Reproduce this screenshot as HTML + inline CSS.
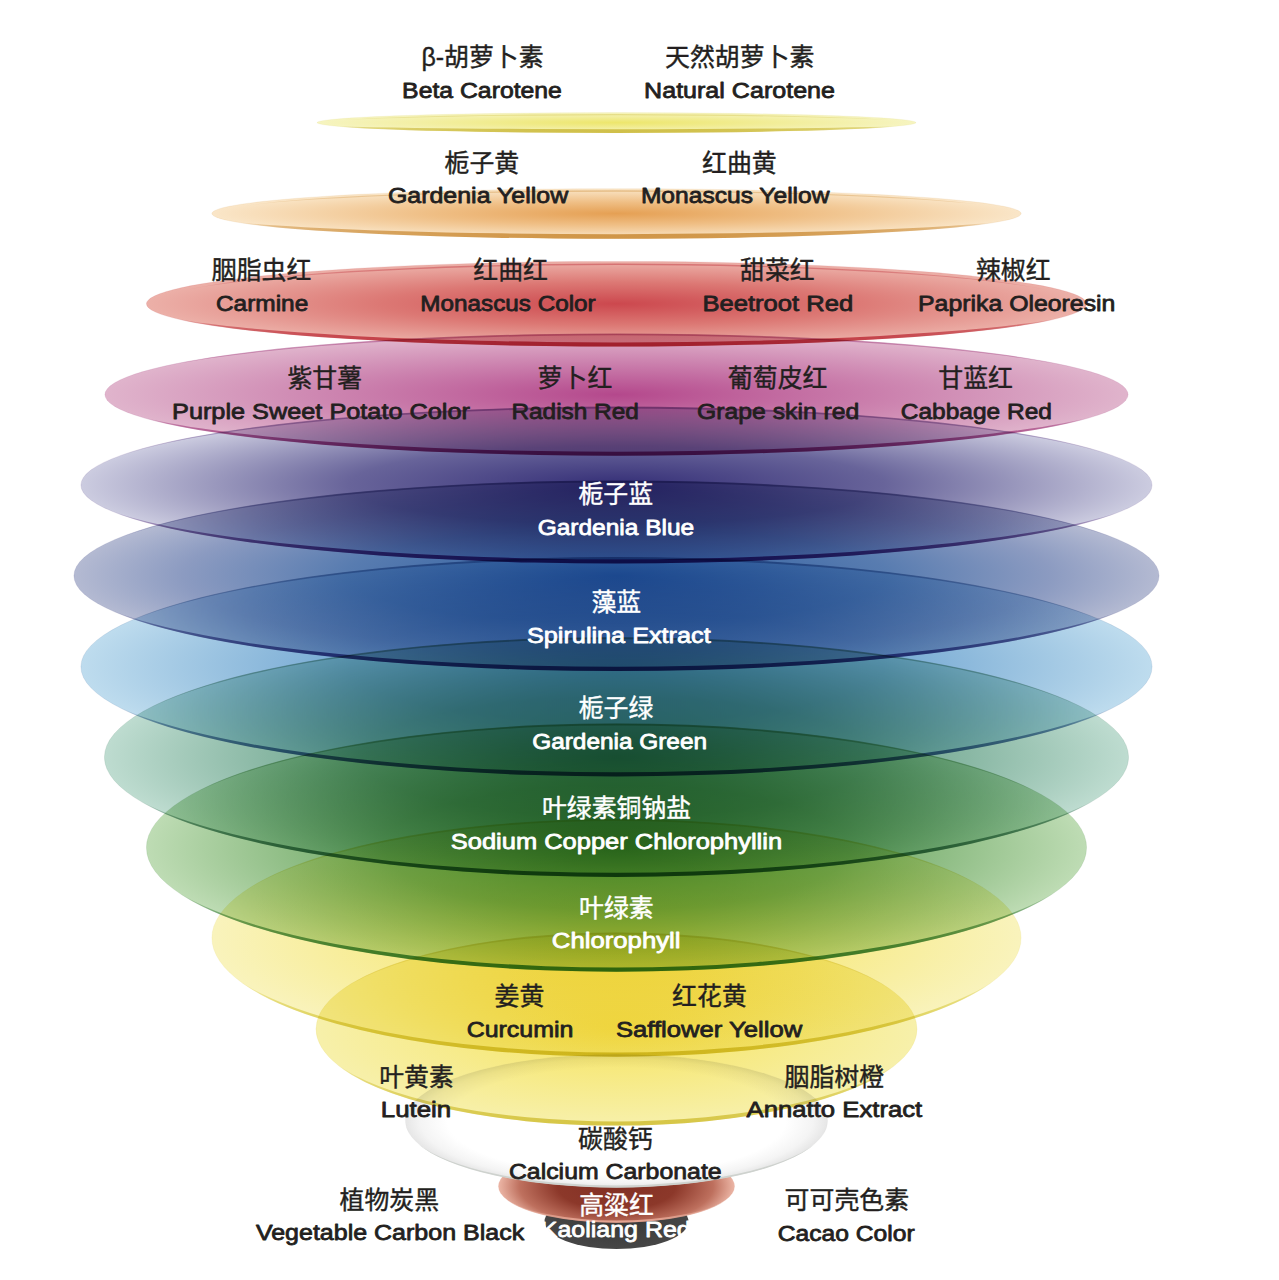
<!DOCTYPE html>
<html lang="zh"><head><meta charset="utf-8"><title>Natural Food Colours</title>
<style>html,body{margin:0;padding:0;background:#fff}body{width:1279px;height:1280px;overflow:hidden;font-family:"Liberation Sans",sans-serif}svg{display:block}.en{font-family:"Liberation Sans",sans-serif;font-size:22.3px;font-weight:normal;stroke-width:0.8;stroke-linejoin:round}.zh{font-family:"Liberation Sans","Noto Sans CJK SC",sans-serif;font-size:24.9px;font-weight:normal;stroke-width:0.4;stroke-linejoin:round}.d{fill:#231f20;stroke:#231f20}.w{fill:#fff;stroke:#fff}</style></head><body>
<svg width="1279" height="1280" viewBox="0 0 1279 1280">
<defs><radialGradient id="g1" cx="0.5" cy="0.5" r="0.5"><stop offset="0" stop-color="rgb(237,230,108)" stop-opacity="1"/><stop offset="1" stop-color="rgb(246,244,192)" stop-opacity="1"/></radialGradient><linearGradient id="r1" x1="0" y1="0" x2="1" y2="0"><stop offset="0" stop-color="rgb(208,192,74)" stop-opacity="0"/><stop offset="0.05" stop-color="rgb(208,192,74)" stop-opacity="0.51"/><stop offset="0.1" stop-color="rgb(208,192,74)" stop-opacity="0.66"/><stop offset="0.15" stop-color="rgb(208,192,74)" stop-opacity="0.76"/><stop offset="0.2" stop-color="rgb(208,192,74)" stop-opacity="0.84"/><stop offset="0.3" stop-color="rgb(208,192,74)" stop-opacity="0.93"/><stop offset="0.4" stop-color="rgb(208,192,74)" stop-opacity="0.98"/><stop offset="0.5" stop-color="rgb(208,192,74)" stop-opacity="1"/><stop offset="0.6" stop-color="rgb(208,192,74)" stop-opacity="0.98"/><stop offset="0.7" stop-color="rgb(208,192,74)" stop-opacity="0.93"/><stop offset="0.8" stop-color="rgb(208,192,74)" stop-opacity="0.84"/><stop offset="0.85" stop-color="rgb(208,192,74)" stop-opacity="0.76"/><stop offset="0.9" stop-color="rgb(208,192,74)" stop-opacity="0.66"/><stop offset="0.95" stop-color="rgb(208,192,74)" stop-opacity="0.51"/><stop offset="1" stop-color="rgb(208,192,74)" stop-opacity="0"/></linearGradient><radialGradient id="g2" cx="0.5" cy="0.5" r="0.5"><stop offset="0" stop-color="rgb(229,160,84)" stop-opacity="1"/><stop offset="0.45" stop-color="rgb(239,190,132)" stop-opacity="1"/><stop offset="1" stop-color="rgb(250,230,200)" stop-opacity="1"/></radialGradient><linearGradient id="r2" x1="0" y1="0" x2="1" y2="0"><stop offset="0" stop-color="rgb(208,150,72)" stop-opacity="0"/><stop offset="0.05" stop-color="rgb(208,150,72)" stop-opacity="0.51"/><stop offset="0.1" stop-color="rgb(208,150,72)" stop-opacity="0.66"/><stop offset="0.15" stop-color="rgb(208,150,72)" stop-opacity="0.76"/><stop offset="0.2" stop-color="rgb(208,150,72)" stop-opacity="0.84"/><stop offset="0.3" stop-color="rgb(208,150,72)" stop-opacity="0.93"/><stop offset="0.4" stop-color="rgb(208,150,72)" stop-opacity="0.98"/><stop offset="0.5" stop-color="rgb(208,150,72)" stop-opacity="1"/><stop offset="0.6" stop-color="rgb(208,150,72)" stop-opacity="0.98"/><stop offset="0.7" stop-color="rgb(208,150,72)" stop-opacity="0.93"/><stop offset="0.8" stop-color="rgb(208,150,72)" stop-opacity="0.84"/><stop offset="0.85" stop-color="rgb(208,150,72)" stop-opacity="0.76"/><stop offset="0.9" stop-color="rgb(208,150,72)" stop-opacity="0.66"/><stop offset="0.95" stop-color="rgb(208,150,72)" stop-opacity="0.51"/><stop offset="1" stop-color="rgb(208,150,72)" stop-opacity="0"/></linearGradient><radialGradient id="g3" cx="0.5" cy="0.5" r="0.5"><stop offset="0" stop-color="rgb(204,72,78)" stop-opacity="1"/><stop offset="0.5" stop-color="rgb(220,120,116)" stop-opacity="1"/><stop offset="1" stop-color="rgb(236,176,168)" stop-opacity="1"/></radialGradient><linearGradient id="r3" x1="0" y1="0" x2="1" y2="0"><stop offset="0" stop-color="rgb(190,50,60)" stop-opacity="0"/><stop offset="0.05" stop-color="rgb(190,50,60)" stop-opacity="0.51"/><stop offset="0.1" stop-color="rgb(190,50,60)" stop-opacity="0.66"/><stop offset="0.15" stop-color="rgb(190,50,60)" stop-opacity="0.76"/><stop offset="0.2" stop-color="rgb(190,50,60)" stop-opacity="0.84"/><stop offset="0.3" stop-color="rgb(190,50,60)" stop-opacity="0.93"/><stop offset="0.4" stop-color="rgb(190,50,60)" stop-opacity="0.98"/><stop offset="0.5" stop-color="rgb(190,50,60)" stop-opacity="1"/><stop offset="0.6" stop-color="rgb(190,50,60)" stop-opacity="0.98"/><stop offset="0.7" stop-color="rgb(190,50,60)" stop-opacity="0.93"/><stop offset="0.8" stop-color="rgb(190,50,60)" stop-opacity="0.84"/><stop offset="0.85" stop-color="rgb(190,50,60)" stop-opacity="0.76"/><stop offset="0.9" stop-color="rgb(190,50,60)" stop-opacity="0.66"/><stop offset="0.95" stop-color="rgb(190,50,60)" stop-opacity="0.51"/><stop offset="1" stop-color="rgb(190,50,60)" stop-opacity="0"/></linearGradient><radialGradient id="g4" cx="0.5" cy="0.5" r="0.5"><stop offset="0" stop-color="rgb(180,72,140)" stop-opacity="1"/><stop offset="1" stop-color="rgb(224,180,204)" stop-opacity="1"/></radialGradient><linearGradient id="r4" x1="0" y1="0" x2="1" y2="0"><stop offset="0" stop-color="rgb(150,40,110)" stop-opacity="0"/><stop offset="0.05" stop-color="rgb(150,40,110)" stop-opacity="0.51"/><stop offset="0.1" stop-color="rgb(150,40,110)" stop-opacity="0.66"/><stop offset="0.15" stop-color="rgb(150,40,110)" stop-opacity="0.76"/><stop offset="0.2" stop-color="rgb(150,40,110)" stop-opacity="0.84"/><stop offset="0.3" stop-color="rgb(150,40,110)" stop-opacity="0.93"/><stop offset="0.4" stop-color="rgb(150,40,110)" stop-opacity="0.98"/><stop offset="0.5" stop-color="rgb(150,40,110)" stop-opacity="1"/><stop offset="0.6" stop-color="rgb(150,40,110)" stop-opacity="0.98"/><stop offset="0.7" stop-color="rgb(150,40,110)" stop-opacity="0.93"/><stop offset="0.8" stop-color="rgb(150,40,110)" stop-opacity="0.84"/><stop offset="0.85" stop-color="rgb(150,40,110)" stop-opacity="0.76"/><stop offset="0.9" stop-color="rgb(150,40,110)" stop-opacity="0.66"/><stop offset="0.95" stop-color="rgb(150,40,110)" stop-opacity="0.51"/><stop offset="1" stop-color="rgb(150,40,110)" stop-opacity="0"/></linearGradient><radialGradient id="g5" cx="0.5" cy="0.5" r="0.5"><stop offset="0" stop-color="rgb(52,46,118)" stop-opacity="1"/><stop offset="0.5" stop-color="rgb(104,100,154)" stop-opacity="1"/><stop offset="1" stop-color="rgb(204,204,224)" stop-opacity="1"/></radialGradient><linearGradient id="r5" x1="0" y1="0" x2="1" y2="0"><stop offset="0" stop-color="rgb(80,40,120)" stop-opacity="0"/><stop offset="0.05" stop-color="rgb(80,40,120)" stop-opacity="0.51"/><stop offset="0.1" stop-color="rgb(80,40,120)" stop-opacity="0.66"/><stop offset="0.15" stop-color="rgb(80,40,120)" stop-opacity="0.76"/><stop offset="0.2" stop-color="rgb(80,40,120)" stop-opacity="0.84"/><stop offset="0.3" stop-color="rgb(80,40,120)" stop-opacity="0.93"/><stop offset="0.4" stop-color="rgb(80,40,120)" stop-opacity="0.98"/><stop offset="0.5" stop-color="rgb(80,40,120)" stop-opacity="1"/><stop offset="0.6" stop-color="rgb(80,40,120)" stop-opacity="0.98"/><stop offset="0.7" stop-color="rgb(80,40,120)" stop-opacity="0.93"/><stop offset="0.8" stop-color="rgb(80,40,120)" stop-opacity="0.84"/><stop offset="0.85" stop-color="rgb(80,40,120)" stop-opacity="0.76"/><stop offset="0.9" stop-color="rgb(80,40,120)" stop-opacity="0.66"/><stop offset="0.95" stop-color="rgb(80,40,120)" stop-opacity="0.51"/><stop offset="1" stop-color="rgb(80,40,120)" stop-opacity="0"/></linearGradient><radialGradient id="g6" cx="0.5" cy="0.5" r="0.5"><stop offset="0" stop-color="rgb(42,90,158)" stop-opacity="1"/><stop offset="0.5" stop-color="rgb(88,124,176)" stop-opacity="1"/><stop offset="0.8" stop-color="rgb(140,155,193)" stop-opacity="1"/><stop offset="1" stop-color="rgb(180,186,210)" stop-opacity="1"/></radialGradient><linearGradient id="r6" x1="0" y1="0" x2="1" y2="0"><stop offset="0" stop-color="rgb(50,50,120)" stop-opacity="0"/><stop offset="0.05" stop-color="rgb(50,50,120)" stop-opacity="0.51"/><stop offset="0.1" stop-color="rgb(50,50,120)" stop-opacity="0.66"/><stop offset="0.15" stop-color="rgb(50,50,120)" stop-opacity="0.76"/><stop offset="0.2" stop-color="rgb(50,50,120)" stop-opacity="0.84"/><stop offset="0.3" stop-color="rgb(50,50,120)" stop-opacity="0.93"/><stop offset="0.4" stop-color="rgb(50,50,120)" stop-opacity="0.98"/><stop offset="0.5" stop-color="rgb(50,50,120)" stop-opacity="1"/><stop offset="0.6" stop-color="rgb(50,50,120)" stop-opacity="0.98"/><stop offset="0.7" stop-color="rgb(50,50,120)" stop-opacity="0.93"/><stop offset="0.8" stop-color="rgb(50,50,120)" stop-opacity="0.84"/><stop offset="0.85" stop-color="rgb(50,50,120)" stop-opacity="0.76"/><stop offset="0.9" stop-color="rgb(50,50,120)" stop-opacity="0.66"/><stop offset="0.95" stop-color="rgb(50,50,120)" stop-opacity="0.51"/><stop offset="1" stop-color="rgb(50,50,120)" stop-opacity="0"/></linearGradient><radialGradient id="g7" cx="0.5" cy="0.5" r="0.5"><stop offset="0" stop-color="rgb(80,142,196)" stop-opacity="1"/><stop offset="0.5" stop-color="rgb(118,169,211)" stop-opacity="1"/><stop offset="1" stop-color="rgb(190,220,238)" stop-opacity="1"/></radialGradient><linearGradient id="r7" x1="0" y1="0" x2="1" y2="0"><stop offset="0" stop-color="rgb(40,80,140)" stop-opacity="0"/><stop offset="0.05" stop-color="rgb(40,80,140)" stop-opacity="0.51"/><stop offset="0.1" stop-color="rgb(40,80,140)" stop-opacity="0.66"/><stop offset="0.15" stop-color="rgb(40,80,140)" stop-opacity="0.76"/><stop offset="0.2" stop-color="rgb(40,80,140)" stop-opacity="0.84"/><stop offset="0.3" stop-color="rgb(40,80,140)" stop-opacity="0.93"/><stop offset="0.4" stop-color="rgb(40,80,140)" stop-opacity="0.98"/><stop offset="0.5" stop-color="rgb(40,80,140)" stop-opacity="1"/><stop offset="0.6" stop-color="rgb(40,80,140)" stop-opacity="0.98"/><stop offset="0.7" stop-color="rgb(40,80,140)" stop-opacity="0.93"/><stop offset="0.8" stop-color="rgb(40,80,140)" stop-opacity="0.84"/><stop offset="0.85" stop-color="rgb(40,80,140)" stop-opacity="0.76"/><stop offset="0.9" stop-color="rgb(40,80,140)" stop-opacity="0.66"/><stop offset="0.95" stop-color="rgb(40,80,140)" stop-opacity="0.51"/><stop offset="1" stop-color="rgb(40,80,140)" stop-opacity="0"/></linearGradient><radialGradient id="g8" cx="0.5" cy="0.5" r="0.5"><stop offset="0" stop-color="rgb(60,130,100)" stop-opacity="1"/><stop offset="0.5" stop-color="rgb(106,162,138)" stop-opacity="1"/><stop offset="1" stop-color="rgb(190,220,208)" stop-opacity="1"/></radialGradient><linearGradient id="r8" x1="0" y1="0" x2="1" y2="0"><stop offset="0" stop-color="rgb(40,100,70)" stop-opacity="0"/><stop offset="0.05" stop-color="rgb(40,100,70)" stop-opacity="0.51"/><stop offset="0.1" stop-color="rgb(40,100,70)" stop-opacity="0.66"/><stop offset="0.15" stop-color="rgb(40,100,70)" stop-opacity="0.76"/><stop offset="0.2" stop-color="rgb(40,100,70)" stop-opacity="0.84"/><stop offset="0.3" stop-color="rgb(40,100,70)" stop-opacity="0.93"/><stop offset="0.4" stop-color="rgb(40,100,70)" stop-opacity="0.98"/><stop offset="0.5" stop-color="rgb(40,100,70)" stop-opacity="1"/><stop offset="0.6" stop-color="rgb(40,100,70)" stop-opacity="0.98"/><stop offset="0.7" stop-color="rgb(40,100,70)" stop-opacity="0.93"/><stop offset="0.8" stop-color="rgb(40,100,70)" stop-opacity="0.84"/><stop offset="0.85" stop-color="rgb(40,100,70)" stop-opacity="0.76"/><stop offset="0.9" stop-color="rgb(40,100,70)" stop-opacity="0.66"/><stop offset="0.95" stop-color="rgb(40,100,70)" stop-opacity="0.51"/><stop offset="1" stop-color="rgb(40,100,70)" stop-opacity="0"/></linearGradient><radialGradient id="g9" cx="0.5" cy="0.5" r="0.5"><stop offset="0" stop-color="rgb(70,142,60)" stop-opacity="1"/><stop offset="0.5" stop-color="rgb(112,169,102)" stop-opacity="1"/><stop offset="1" stop-color="rgb(190,220,180)" stop-opacity="1"/></radialGradient><linearGradient id="r9" x1="0" y1="0" x2="1" y2="0"><stop offset="0" stop-color="rgb(50,120,50)" stop-opacity="0"/><stop offset="0.05" stop-color="rgb(50,120,50)" stop-opacity="0.51"/><stop offset="0.1" stop-color="rgb(50,120,50)" stop-opacity="0.66"/><stop offset="0.15" stop-color="rgb(50,120,50)" stop-opacity="0.76"/><stop offset="0.2" stop-color="rgb(50,120,50)" stop-opacity="0.84"/><stop offset="0.3" stop-color="rgb(50,120,50)" stop-opacity="0.93"/><stop offset="0.4" stop-color="rgb(50,120,50)" stop-opacity="0.98"/><stop offset="0.5" stop-color="rgb(50,120,50)" stop-opacity="1"/><stop offset="0.6" stop-color="rgb(50,120,50)" stop-opacity="0.98"/><stop offset="0.7" stop-color="rgb(50,120,50)" stop-opacity="0.93"/><stop offset="0.8" stop-color="rgb(50,120,50)" stop-opacity="0.84"/><stop offset="0.85" stop-color="rgb(50,120,50)" stop-opacity="0.76"/><stop offset="0.9" stop-color="rgb(50,120,50)" stop-opacity="0.66"/><stop offset="0.95" stop-color="rgb(50,120,50)" stop-opacity="0.51"/><stop offset="1" stop-color="rgb(50,120,50)" stop-opacity="0"/></linearGradient><radialGradient id="g10" cx="0.5" cy="0.5" r="0.5"><stop offset="0" stop-color="rgb(245,226,84)" stop-opacity="1"/><stop offset="1" stop-color="rgb(249,243,188)" stop-opacity="1"/></radialGradient><linearGradient id="r10" x1="0" y1="0" x2="1" y2="0"><stop offset="0" stop-color="rgb(214,200,60)" stop-opacity="0"/><stop offset="0.05" stop-color="rgb(214,200,60)" stop-opacity="0.51"/><stop offset="0.1" stop-color="rgb(214,200,60)" stop-opacity="0.66"/><stop offset="0.15" stop-color="rgb(214,200,60)" stop-opacity="0.76"/><stop offset="0.2" stop-color="rgb(214,200,60)" stop-opacity="0.84"/><stop offset="0.3" stop-color="rgb(214,200,60)" stop-opacity="0.93"/><stop offset="0.4" stop-color="rgb(214,200,60)" stop-opacity="0.98"/><stop offset="0.5" stop-color="rgb(214,200,60)" stop-opacity="1"/><stop offset="0.6" stop-color="rgb(214,200,60)" stop-opacity="0.98"/><stop offset="0.7" stop-color="rgb(214,200,60)" stop-opacity="0.93"/><stop offset="0.8" stop-color="rgb(214,200,60)" stop-opacity="0.84"/><stop offset="0.85" stop-color="rgb(214,200,60)" stop-opacity="0.76"/><stop offset="0.9" stop-color="rgb(214,200,60)" stop-opacity="0.66"/><stop offset="0.95" stop-color="rgb(214,200,60)" stop-opacity="0.51"/><stop offset="1" stop-color="rgb(214,200,60)" stop-opacity="0"/></linearGradient><radialGradient id="g11" cx="0.5" cy="0.5" r="0.5"><stop offset="0" stop-color="rgb(246,228,96)" stop-opacity="1"/><stop offset="1" stop-color="rgb(247,240,170)" stop-opacity="1"/></radialGradient><linearGradient id="r11" x1="0" y1="0" x2="1" y2="0"><stop offset="0" stop-color="rgb(214,198,70)" stop-opacity="0"/><stop offset="0.05" stop-color="rgb(214,198,70)" stop-opacity="0.51"/><stop offset="0.1" stop-color="rgb(214,198,70)" stop-opacity="0.66"/><stop offset="0.15" stop-color="rgb(214,198,70)" stop-opacity="0.76"/><stop offset="0.2" stop-color="rgb(214,198,70)" stop-opacity="0.84"/><stop offset="0.3" stop-color="rgb(214,198,70)" stop-opacity="0.93"/><stop offset="0.4" stop-color="rgb(214,198,70)" stop-opacity="0.98"/><stop offset="0.5" stop-color="rgb(214,198,70)" stop-opacity="1"/><stop offset="0.6" stop-color="rgb(214,198,70)" stop-opacity="0.98"/><stop offset="0.7" stop-color="rgb(214,198,70)" stop-opacity="0.93"/><stop offset="0.8" stop-color="rgb(214,198,70)" stop-opacity="0.84"/><stop offset="0.85" stop-color="rgb(214,198,70)" stop-opacity="0.76"/><stop offset="0.9" stop-color="rgb(214,198,70)" stop-opacity="0.66"/><stop offset="0.95" stop-color="rgb(214,198,70)" stop-opacity="0.51"/><stop offset="1" stop-color="rgb(214,198,70)" stop-opacity="0"/></linearGradient><radialGradient id="g12" cx="0.5" cy="0.5" r="0.5"><stop offset="0" stop-color="rgb(255,255,255)" stop-opacity="1"/><stop offset="0.8" stop-color="rgb(255,255,255)" stop-opacity="1"/><stop offset="0.93" stop-color="rgb(244,244,244)" stop-opacity="1"/><stop offset="1" stop-color="rgb(230,230,230)" stop-opacity="1"/></radialGradient><radialGradient id="g13" cx="0.5" cy="0.5" r="0.5" gradientTransform="translate(.5 .5) scale(1 1.3) translate(-.5 -.5)"><stop offset="0" stop-color="rgb(130,48,36)" stop-opacity="1"/><stop offset="0.5" stop-color="rgb(140,56,42)" stop-opacity="1"/><stop offset="0.82" stop-color="rgb(190,112,94)" stop-opacity="1"/><stop offset="1" stop-color="rgb(236,182,166)" stop-opacity="1"/></radialGradient><linearGradient id="r13" x1="0" y1="0" x2="1" y2="0"><stop offset="0" stop-color="rgb(228,164,146)" stop-opacity="0"/><stop offset="0.05" stop-color="rgb(228,164,146)" stop-opacity="0.44"/><stop offset="0.1" stop-color="rgb(228,164,146)" stop-opacity="0.6"/><stop offset="0.15" stop-color="rgb(228,164,146)" stop-opacity="0.71"/><stop offset="0.2" stop-color="rgb(228,164,146)" stop-opacity="0.8"/><stop offset="0.3" stop-color="rgb(228,164,146)" stop-opacity="0.92"/><stop offset="0.4" stop-color="rgb(228,164,146)" stop-opacity="0.98"/><stop offset="0.5" stop-color="rgb(228,164,146)" stop-opacity="1"/><stop offset="0.6" stop-color="rgb(228,164,146)" stop-opacity="0.98"/><stop offset="0.7" stop-color="rgb(228,164,146)" stop-opacity="0.92"/><stop offset="0.8" stop-color="rgb(228,164,146)" stop-opacity="0.8"/><stop offset="0.85" stop-color="rgb(228,164,146)" stop-opacity="0.71"/><stop offset="0.9" stop-color="rgb(228,164,146)" stop-opacity="0.6"/><stop offset="0.95" stop-color="rgb(228,164,146)" stop-opacity="0.44"/><stop offset="1" stop-color="rgb(228,164,146)" stop-opacity="0"/></linearGradient><radialGradient id="g14" cx="0.5" cy="0.5" r="0.5"><stop offset="0" stop-color="rgb(56,56,56)" stop-opacity="1"/><stop offset="1" stop-color="rgb(70,70,70)" stop-opacity="1"/></radialGradient></defs>
<g id="discs" style="isolation:isolate">
<g id="disc14"><ellipse cx="616.5" cy="1221.5" rx="72" ry="27.5" fill="url(#g14)"/></g>
<g id="disc13"><ellipse cx="616.5" cy="1186.2" rx="118.1" ry="36.2" fill="url(#g13)" stroke="rgb(228,164,146)" stroke-opacity="0.13" stroke-width="0.8"/><path fill="url(#r13)" fill-opacity="1" d="M505.11 1198.69A118.5 36.6 0 0 0 727.89 1198.69A120.57 35.5 0 0 1 505.11 1198.69Z"/></g>
<g id="disc12"><ellipse cx="616.5" cy="1120.9" rx="211.1" ry="66.4" fill="url(#g12)" stroke="rgb(206,210,206)" stroke-opacity="0.13" stroke-width="0.8"/><path fill="rgb(206,210,206)" fill-opacity="1" d="M417.69 1143.69A211.5 66.8 0 0 0 815.31 1143.69A213.42 65.7 0 0 1 417.69 1143.69Z"/></g>
<g id="disc11" style="mix-blend-mode:multiply"><ellipse cx="616.5" cy="1029" rx="300.6" ry="96.2" fill="url(#g11)" stroke="rgb(214,198,70)" stroke-opacity="0.13" stroke-width="0.8"/><path fill="url(#r11)" fill-opacity="1" d="M333.56 1061.96A301 96.6 0 0 0 899.44 1061.96A304.68 94.5 0 0 1 333.56 1061.96Z"/><path fill="url(#r11)" fill-opacity="0.45" d="M333.56 996.04A301 96.6 0 0 1 899.44 996.04A302.68 95.6 0 0 0 333.56 996.04Z"/></g>
<g id="disc10" style="mix-blend-mode:multiply"><ellipse cx="616.5" cy="937.85" rx="404.6" ry="118.45" fill="url(#g10)" stroke="rgb(214,200,60)" stroke-opacity="0.13" stroke-width="0.8"/><path fill="url(#r10)" fill-opacity="1" d="M235.8 978.4A405 118.85 0 0 0 997.2 978.4A408.96 116.75 0 0 1 235.8 978.4Z"/><path fill="url(#r10)" fill-opacity="0.45" d="M235.8 897.3A405 118.85 0 0 1 997.2 897.3A406.82 117.85 0 0 0 235.8 897.3Z"/></g>
<g id="disc9" style="mix-blend-mode:multiply"><ellipse cx="616.5" cy="847.6" rx="470.1" ry="123.8" fill="url(#g9)" stroke="rgb(50,120,50)" stroke-opacity="0.13" stroke-width="0.8"/><path fill="url(#r9)" fill-opacity="1" d="M174.23 889.97A470.5 124.2 0 0 0 1058.77 889.97A474.89 122.1 0 0 1 174.23 889.97Z"/><path fill="url(#r9)" fill-opacity="0.45" d="M174.23 805.23A470.5 124.2 0 0 1 1058.77 805.23A472.52 123.2 0 0 0 174.23 805.23Z"/></g>
<g id="disc8" style="mix-blend-mode:multiply"><ellipse cx="616.5" cy="757.1" rx="512.1" ry="119.5" fill="url(#g8)" stroke="rgb(40,100,70)" stroke-opacity="0.13" stroke-width="0.8"/><path fill="url(#r8)" fill-opacity="1" d="M134.75 798.01A512.5 119.9 0 0 0 1098.25 798.01A517.47 117.8 0 0 1 134.75 798.01Z"/><path fill="url(#r8)" fill-opacity="0.45" d="M134.75 716.19A512.5 119.9 0 0 1 1098.25 716.19A514.78 118.9 0 0 0 134.75 716.19Z"/></g>
<g id="disc7" style="mix-blend-mode:multiply"><ellipse cx="616.5" cy="666.7" rx="535.6" ry="109.3" fill="url(#g7)" stroke="rgb(40,80,140)" stroke-opacity="0.13" stroke-width="0.8"/><path fill="url(#r7)" fill-opacity="1" d="M112.66 704.13A536 109.7 0 0 0 1120.34 704.13A541.72 107.6 0 0 1 112.66 704.13Z"/><path fill="url(#r7)" fill-opacity="0.45" d="M112.66 629.27A536 109.7 0 0 1 1120.34 629.27A538.62 108.7 0 0 0 112.66 629.27Z"/></g>
<g id="disc6" style="mix-blend-mode:multiply"><ellipse cx="616.5" cy="575.75" rx="542.6" ry="94.85" fill="url(#g6)" stroke="rgb(50,50,120)" stroke-opacity="0.13" stroke-width="0.8"/><path fill="url(#r6)" fill-opacity="1" d="M106.08 608.25A543 95.25 0 0 0 1126.92 608.25A549.74 93.15 0 0 1 106.08 608.25Z"/><path fill="url(#r6)" fill-opacity="0.45" d="M106.08 543.25A543 95.25 0 0 1 1126.92 543.25A546.07 94.25 0 0 0 106.08 543.25Z"/></g>
<g id="disc5" style="mix-blend-mode:multiply"><ellipse cx="616.5" cy="485.05" rx="535.6" ry="78.05" fill="url(#g5)" stroke="rgb(80,40,120)" stroke-opacity="0.13" stroke-width="0.8"/><path fill="url(#r5)" fill-opacity="1" d="M112.66 511.82A536 78.45 0 0 0 1120.34 511.82A544.23 76.35 0 0 1 112.66 511.82Z"/><path fill="url(#r5)" fill-opacity="0.45" d="M112.66 458.28A536 78.45 0 0 1 1120.34 458.28A539.71 77.45 0 0 0 112.66 458.28Z"/></g>
<g id="disc4" style="mix-blend-mode:multiply"><ellipse cx="616.5" cy="394.6" rx="511.6" ry="60.7" fill="url(#g4)" stroke="rgb(150,40,110)" stroke-opacity="0.13" stroke-width="0.8"/><path fill="url(#r4)" fill-opacity="1" d="M135.22 415.45A512 61.1 0 0 0 1097.78 415.45A521.85 59.1 0 0 1 135.22 415.45Z"/><path fill="url(#r4)" fill-opacity="0.45" d="M135.22 373.75A512 61.1 0 0 1 1097.78 373.75A516.13 60.2 0 0 0 135.22 373.75Z"/></g>
<g id="disc3" style="mix-blend-mode:multiply"><ellipse cx="616.5" cy="303.8" rx="470.1" ry="42.4" fill="url(#g3)" stroke="rgb(190,50,60)" stroke-opacity="0.13" stroke-width="0.8"/><path fill="url(#r3)" fill-opacity="1" d="M174.23 318.4A470.5 42.8 0 0 0 1058.77 318.4A484.99 40.7 0 0 1 174.23 318.4Z"/><path fill="url(#r3)" fill-opacity="0.45" d="M181.56 290.94A462.7 41.5 0 0 1 1051.44 290.94A467.34 40.75 0 0 0 181.56 290.94Z"/></g>
<g id="disc2" style="mix-blend-mode:multiply"><ellipse cx="616.5" cy="213.55" rx="404.6" ry="24.85" fill="url(#g2)" stroke="rgb(208,150,72)" stroke-opacity="0.13" stroke-width="0.8"/><path fill="url(#r2)" fill-opacity="1" d="M235.8 222.16A405 25.25 0 0 0 997.2 222.16A432.78 22.95 0 0 1 235.8 222.16Z"/><path fill="url(#r2)" fill-opacity="0.45" d="M241.44 206.28A399 24.25 0 0 1 991.56 206.28A405.66 23.55 0 0 0 241.44 206.28Z"/></g>
<g id="disc1" style="mix-blend-mode:multiply"><ellipse cx="616.5" cy="122.6" rx="299.6" ry="10" fill="url(#g1)" stroke="rgb(208,192,74)" stroke-opacity="0.13" stroke-width="0.8"/><path fill="url(#r1)" fill-opacity="1" d="M334.5 126.15A300 10.4 0 0 0 898.5 126.15A367.39 8.5 0 0 1 334.5 126.15Z"/><path fill="url(#r1)" fill-opacity="0.4" d="M339.58 120.26A294.6 9.5 0 0 1 893.42 120.26A308.33 8.85 0 0 0 339.58 120.26Z"/></g>
</g>
<g id="labels">
<g class="label"><text class="zh d" x="482.52" y="66.29" text-anchor="middle">β-胡萝卜素</text><text class="en d" transform="translate(402.12 97.5) scale(1.1115 1)">Beta Carotene</text></g>
<g class="label"><text class="zh d" x="739.75" y="66.26" text-anchor="middle">天然胡萝卜素</text><text class="en d" transform="translate(644.09 97.5) scale(1.1241 1)">Natural Carotene</text></g>
<g class="label"><text class="zh d" x="481.88" y="171.57" text-anchor="middle">栀子黄</text><text class="en d" transform="translate(387.89 203.25) scale(1.1194 1)">Gardenia Yellow</text></g>
<g class="label"><text class="zh d" x="739.38" y="171.59" text-anchor="middle">红曲黄</text><text class="en d" transform="translate(640.88 203.25) scale(1.1029 1)">Monascus Yellow</text></g>
<g class="label"><text class="zh d" x="261.55" y="278.91" text-anchor="middle">胭脂虫红</text><text class="en d" transform="translate(215.96 310.9) scale(1.0957 1)">Carmine</text></g>
<g class="label"><text class="zh d" x="510.65" y="279.01" text-anchor="middle">红曲红</text><text class="en d" transform="translate(420.31 310.9) scale(1.0891 1)">Monascus  Color</text></g>
<g class="label"><text class="zh d" x="777.4" y="279" text-anchor="middle">甜菜红</text><text class="en d" transform="translate(702.4 310.9) scale(1.1489 1)">Beetroot Red</text></g>
<g class="label"><text class="zh d" x="1013.3" y="279.02" text-anchor="middle">辣椒红</text><text class="en d" transform="translate(918.06 310.9) scale(1.1141 1)">Paprika Oleoresin</text></g>
<g class="label"><text class="zh d" x="324.75" y="386.95" text-anchor="middle">紫甘薯</text><text class="en d" transform="translate(172.03 418.5) scale(1.1341 1)">Purple Sweet Potato Color</text></g>
<g class="label"><text class="zh d" x="574.95" y="386.94" text-anchor="middle">萝卜红</text><text class="en d" transform="translate(511.4 418.5) scale(1.0940 1)">Radish Red</text></g>
<g class="label"><text class="zh d" x="777.65" y="386.96" text-anchor="middle">葡萄皮红</text><text class="en d" transform="translate(697.06 418.5) scale(1.1100 1)">Grape skin red</text></g>
<g class="label"><text class="zh d" x="975.65" y="387" text-anchor="middle">甘蓝红</text><text class="en d" transform="translate(900.75 418.5) scale(1.0997 1)">Cabbage Red</text></g>
<g class="label"><text class="zh w" x="615.75" y="502.57" text-anchor="middle">栀子蓝</text><text class="en w" transform="translate(537.67 534.5) scale(1.0980 1)">Gardenia Blue</text></g>
<g class="label"><text class="zh w" x="616.38" y="611.32" text-anchor="middle">藻蓝</text><text class="en w" transform="translate(527 642.5) scale(1.1321 1)">Spirulina Extract</text></g>
<g class="label"><text class="zh w" x="616" y="717.32" text-anchor="middle">栀子绿</text><text class="en w" transform="translate(532.17 749) scale(1.0946 1)">Gardenia Green</text></g>
<g class="label"><text class="zh w" x="616.6" y="817.02" text-anchor="middle">叶绿素铜钠盐</text><text class="en w" transform="translate(450.74 848.5) scale(1.1424 1)">Sodium Copper Chlorophyllin</text></g>
<g class="label"><text class="zh w" x="616.38" y="916.97" text-anchor="middle">叶绿素</text><text class="en w" transform="translate(551.84 948) scale(1.1540 1)">Chlorophyll</text></g>
<g class="label"><text class="zh d" x="519.45" y="1004.61" text-anchor="middle">姜黄</text><text class="en d" transform="translate(466.63 1036.5) scale(1.1204 1)">Curcumin</text></g>
<g class="label"><text class="zh d" x="709.45" y="1004.56" text-anchor="middle">红花黄</text><text class="en d" transform="translate(615.93 1036.5) scale(1.1509 1)">Safflower Yellow</text></g>
<g class="label"><text class="zh d" x="416.5" y="1085.69" text-anchor="middle">叶黄素</text><text class="en d" transform="translate(380.78 1117.25) scale(1.1602 1)">Lutein</text></g>
<g class="label"><text class="zh d" x="834.38" y="1085.66" text-anchor="middle">胭脂树橙</text><text class="en d" transform="translate(746.6 1117.25) scale(1.1524 1)">Annatto Extract</text></g>
<g class="label"><text class="zh d" x="615.38" y="1147.94" text-anchor="middle">碳酸钙</text><text class="en d" transform="translate(508.89 1178.5) scale(1.1150 1)">Calcium Carbonate</text></g>
<g class="label"><text class="zh d" x="389.35" y="1209.21" text-anchor="middle">植物炭黑</text><text class="en d" transform="translate(255.89 1240.1) scale(1.1214 1)">Vegetable Carbon Black</text></g>
<g class="label"><text class="zh w" x="616.5" y="1213.77" text-anchor="middle">高粱红</text><text class="en w" transform="translate(540.85 1236.5) scale(1.1192 1)">Kaoliang Red</text></g>
<g class="label"><text class="zh d" x="846.85" y="1209.19" text-anchor="middle">可可壳色素</text><text class="en d" transform="translate(777.65 1240.7) scale(1.1051 1)">Cacao Color</text></g>
</g>
</svg></body></html>
